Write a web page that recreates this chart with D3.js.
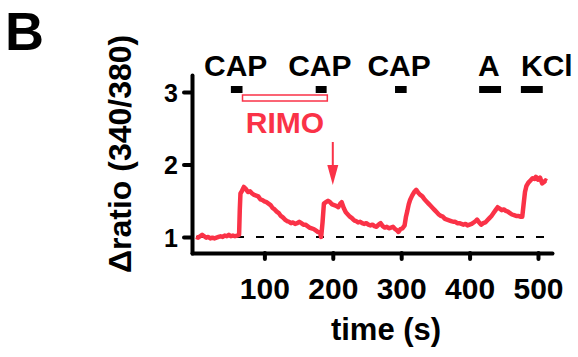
<!DOCTYPE html>
<html>
<head>
<meta charset="utf-8">
<script src="https://cdn.jsdelivr.net/npm/d3@7"></script>
<style>
  body { margin: 0; background: #fff; }
  text { font-family: "Liberation Sans", Arial, sans-serif; font-weight: bold; }
</style>
</head>
<body>
<svg width="578" height="357"></svg>
<script>
// trace (time in s, delta ratio 340/380)
var time = [0,3,6,9,12,15,18,21,24,27,30,33,36,39,42,45,48,51,54,57,60,63,
  64,65,67,70,73,76,79,82,85,88,91,94,97,100,103,106,109,112,115,118,121,124,127,130,133,136,139,142,145,148,151,154,157,160,163,166,169,172,175,178,181,183,
  185,187,190,193,196,199,202,205,208,211,213,216,219,222,225,228,231,234,237,240,243,246,249,252,255,258,261,264,267,270,273,276,279,282,285,288,291,294,296,299,302,305,
  307,309,311,313,316,319,322,325,328,331,334,337,340,343,346,349,352,355,358,361,364,367,370,373,376,379,382,385,388,391,394,397,400,403,406,409,411,414,417,420,
  423,426,429,432,435,438,441,444,447,450,453,456,459,462,465,468,471,474,477,
  479,481,483,486,489,492,495,497,500,503,506,509,511,513];
var ratio = [1.00,0.99,1.01,1.03,1.01,0.99,1.00,0.98,0.99,0.98,0.99,1.00,1.01,1.00,1.02,1.01,1.03,1.01,1.02,1.01,1.02,1.03,
  1.37,1.60,1.63,1.69,1.66,1.62,1.63,1.60,1.58,1.57,1.56,1.52,1.51,1.49,1.48,1.46,1.44,1.40,1.38,1.35,1.33,1.29,1.27,1.24,1.22,1.21,1.19,1.20,1.18,1.19,1.21,1.19,1.17,1.17,1.15,1.13,1.12,1.11,1.09,1.07,1.06,1.00,
  1.20,1.46,1.48,1.50,1.48,1.45,1.44,1.43,1.41,1.46,1.48,1.40,1.34,1.31,1.28,1.26,1.23,1.22,1.20,1.21,1.19,1.18,1.19,1.17,1.16,1.17,1.15,1.14,1.17,1.19,1.15,1.13,1.14,1.12,1.13,1.14,1.11,1.09,1.07,1.11,1.12,1.16,
  1.28,1.36,1.45,1.51,1.57,1.62,1.65,1.61,1.58,1.56,1.52,1.49,1.46,1.43,1.40,1.37,1.34,1.31,1.29,1.28,1.25,1.24,1.23,1.22,1.21,1.21,1.19,1.19,1.18,1.17,1.18,1.16,1.17,1.18,1.20,1.22,1.24,1.20,1.17,1.19,
  1.20,1.23,1.26,1.29,1.33,1.37,1.41,1.39,1.37,1.38,1.36,1.35,1.33,1.31,1.30,1.29,1.29,1.28,1.28,
  1.45,1.62,1.70,1.75,1.78,1.81,1.80,1.83,1.79,1.82,1.74,1.76,1.78,1.77];

// drug applications: label, bar start, bar end, label position (s)
var drugNames = ['CAP', 'CAP', 'CAP', 'A', 'KCl'];
var drugStart = [51, 175, 291, 414, 475];
var drugEnd = [68, 191, 308, 446, 507];
var drugLabelAt = [58, 181, 297, 428, 513];

var rimo = [68, 192];
var arrowAt = 200;

var xTicks = [100, 200, 300, 400, 500];
var yTicks = [1, 2, 3];

var red = '#fa3247';
var svg = d3.select('svg');

var x = d3.scaleLinear().domain([-5.85, 520.5]).range([192, 552]);
var y = d3.scaleLinear().domain([0.779, 3.234]).range([253, 75]);

svg.append('text')
  .attr('x', 5).attr('y', 49.5)
  .attr('font-size', 54)
  .text('B');

// baseline
svg.append('line')
  .attr('x1', x(0)).attr('x2', x(520.5))
  .attr('y1', y(1)).attr('y2', y(1))
  .attr('stroke', '#000')
  .attr('stroke-width', 2)
  .attr('stroke-dasharray', '8,12');

var line = d3.line()
  .x(function(d) { return x(d[0]); })
  .y(function(d) { return y(d[1]); });

svg.append('path')
  .datum(d3.zip(time, ratio))
  .attr('d', line)
  .attr('fill', 'none')
  .attr('stroke', red)
  .attr('stroke-width', 4.5)
  .attr('stroke-linejoin', 'round');

// axes
var yAxis = svg.append('g')
  .attr('transform', 'translate(192,0)')
  .call(d3.axisLeft(y).tickValues(yTicks).tickFormat(d3.format('d'))
    .tickSize(8).tickSizeOuter(0).tickPadding(6));
var xAxis = svg.append('g')
  .attr('transform', 'translate(0,253)')
  .call(d3.axisBottom(x).tickValues(xTicks).tickFormat(d3.format('d'))
    .tickSize(6).tickSizeOuter(0).tickPadding(19));

[yAxis, xAxis].forEach(function(g) {
  g.selectAll('path, line')
    .attr('stroke', '#000')
    .attr('stroke-width', 4)
    .attr('stroke-linecap', 'round');
  g.selectAll('text')
    .attr('fill', '#000')
    .attr('font-family', '"Liberation Sans", Arial, sans-serif')
    .attr('font-weight', 'bold');
});
yAxis.selectAll('text').attr('font-size', 25).attr('dy', '0.38em');
xAxis.selectAll('text').attr('font-size', 30);

svg.append('text')
  .attr('transform', 'translate(131,273) rotate(-90)')
  .attr('font-size', 32)
  .text('\u0394ratio (340/380)');

svg.append('text')
  .attr('x', 386).attr('y', 340)
  .attr('text-anchor', 'middle')
  .attr('font-size', 31)
  .text('time (s)');

// drug bars and labels
svg.selectAll('.drugbar')
  .data(drugNames)
  .enter()
  .append('rect')
  .attr('class', 'drugbar')
  .attr('x', function(d, i) { return x(drugStart[i]); })
  .attr('width', function(d, i) { return x(drugEnd[i]) - x(drugStart[i]); })
  .attr('y', 86)
  .attr('height', 7)
  .attr('fill', '#000');

svg.selectAll('.druglabel')
  .data(drugNames)
  .enter()
  .append('text')
  .attr('class', 'druglabel')
  .attr('x', function(d, i) { return x(drugLabelAt[i]); })
  .attr('y', 76)
  .attr('text-anchor', 'middle')
  .attr('font-size', 30)
  .text(function(d) { return d; });

// RIMO box
svg.append('rect')
  .attr('x', x(rimo[0]))
  .attr('width', x(rimo[1]) - x(rimo[0]))
  .attr('y', 95)
  .attr('height', 6)
  .attr('fill', '#fff')
  .attr('stroke', red)
  .attr('stroke-width', 1.5);

svg.append('text')
  .attr('x', x((rimo[0] + rimo[1]) / 2))
  .attr('y', 133)
  .attr('text-anchor', 'middle')
  .attr('font-size', 30)
  .attr('fill', red)
  .text('RIMO');

// arrow
var ax = x(arrowAt);
svg.append('line')
  .attr('x1', ax).attr('x2', ax)
  .attr('y1', 142).attr('y2', 170)
  .attr('stroke', red)
  .attr('stroke-width', 2);
svg.append('path')
  .attr('d', 'M' + (ax - 5.5) + ',165L' + (ax + 5.5) + ',165L' + ax + ',185Z')
  .attr('fill', red);
</script>
</body>
</html>
